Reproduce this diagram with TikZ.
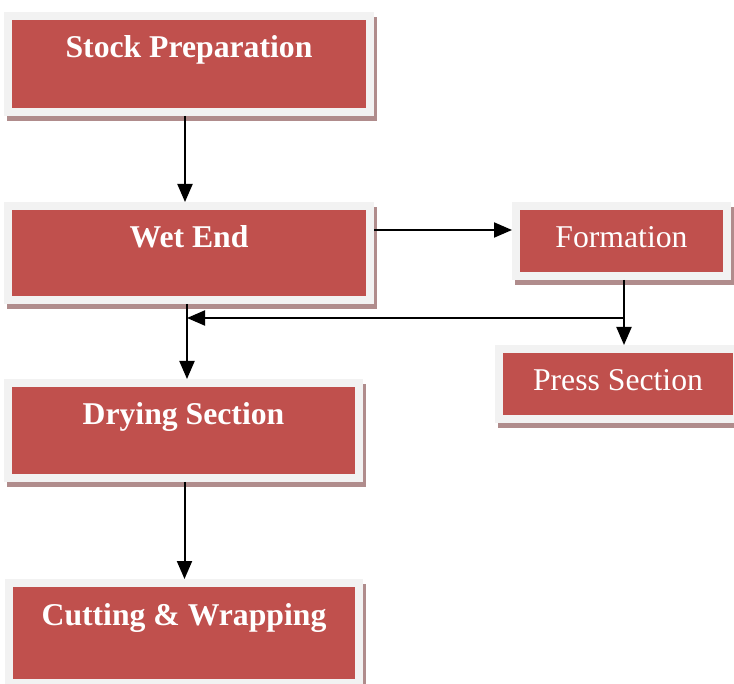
\documentclass[tikz,border=0pt]{standalone}
\usepackage{fontspec}
\setmainfont{Liberation Serif}
\usetikzlibrary{arrows.meta, positioning, shadows}

\definecolor{boxred}{RGB}{192,80,77}
\definecolor{framegray}{RGB}{242,242,242}
\definecolor{shadowbrown}{RGB}{176,140,140}

\begin{document}
\begin{tikzpicture}[
    x=1pt, y=-1pt,
    box/.style={rectangle, fill=boxred, draw=framegray, line width=8pt, anchor=north,
        inner xsep=0pt, inner ysep=11pt, text height=31pt, text depth=#1, text=white,
        font=\fontsize{31.7}{36}\selectfont\bfseries,
        general shadow={fill=shadowbrown, draw=shadowbrown, line width=8pt, shadow xshift=3pt, shadow yshift=-5pt}},
    thinbox/.style={box=#1, font=\fontsize{31.7}{36}\selectfont},
    arrow/.style={-{Triangle[length=18pt, width=15pt]}, line width=2pt},
]
\useasboundingbox (0,0) rectangle (734,684);

% ===== MAIN LINE =====
\node[box=43pt, minimum width=362pt] (stock) at (189,12) {Stock Preparation};
\node[box=41pt, minimum width=362pt] (wet) at (189,202) {Wet End};
\node[box=42pt, minimum width=351pt] (drying) at (183.5,379) {Drying Section};
\node[box=47pt, minimum width=350pt] (cutting) at (184,579) {Cutting \& Wrapping};

% ===== SIDE BRANCH =====
\node[thinbox=17pt, minimum width=211pt] (formation) at (621.5,202) {Formation};
\node[thinbox=17pt, minimum width=238pt] (press) at (618,345) {Press Section};

\coordinate (split) at (624,318);
\coordinate (merge) at (187,318);

\draw[arrow] ([xshift=-4pt]stock.south) -- ([xshift=-4pt]stock.south |- wet.north);
\draw[arrow] ([yshift=23pt]wet.east) -- ([yshift=23pt]wet.east -| formation.west);
\draw[arrow] ([xshift=2.5pt]formation.south) -- ([xshift=2.5pt]formation.south |- press.north);
\draw[arrow] (split) -- (merge);
\draw[arrow] ([xshift=-2pt]wet.south) -- ([xshift=-2pt]wet.south |- drying.north);
\draw[arrow] ([xshift=1pt]drying.south) -- ([xshift=1pt]drying.south |- cutting.north);

\end{tikzpicture}
\end{document}
